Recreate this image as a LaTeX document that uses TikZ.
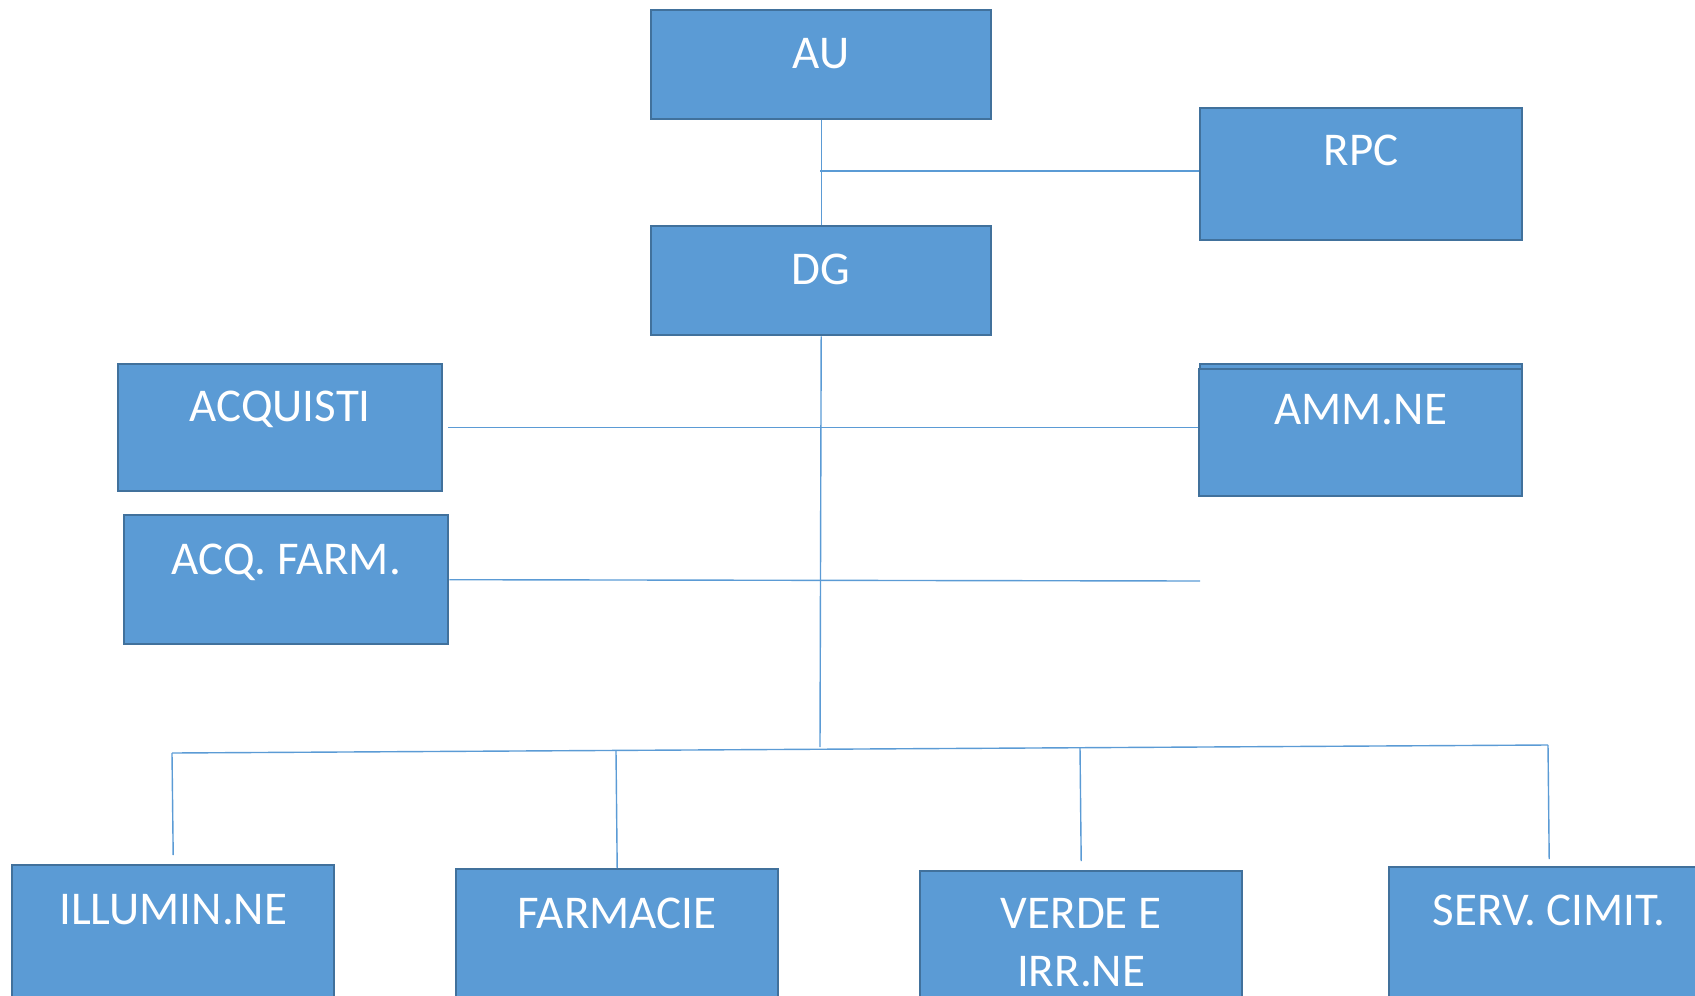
\documentclass[tikz,border=0pt]{standalone}
\usepackage{fontspec}
\setmainfont{Carlito}
\usetikzlibrary{positioning}

\definecolor{boxfill}{HTML}{5B9BD5}
\definecolor{boxline}{HTML}{41719C}
\definecolor{linkline}{HTML}{5B9BD5}

\begin{document}
\begin{tikzpicture}[x=1pt, y=-1pt,
    unit/.style={draw=boxline, fill=boxfill, line width=2.4pt, text=white,
      inner sep=0pt, anchor=north west, align=center,
      font=\fontsize{47}{58}\selectfont},
    link/.style={draw=linkline, line width=1.4pt}]

    \useasboundingbox (0,0) rectangle (1695,996);
    \clip (0,0) rectangle (1695,996);

    % =================================================================
    % 1. BOXES
    % =================================================================
    % top of the chart
    \node[unit, minimum width=340pt, text height=58pt, text depth=51pt] (au) at (650,9) {AU};
    \node[unit, minimum width=322pt, text height=57pt, text depth=75pt] (rpc) at (1199,107) {RPC};
    \node[unit, minimum width=340pt, text height=58pt, text depth=51pt] (dg) at (650,225) {DG};

    % staff boxes
    \node[unit, minimum width=324pt, text height=57pt, text depth=70pt] (acq) at (117,363) {ACQUISTI};
    \node[unit, minimum width=324pt, text height=59pt, text depth=70pt] (acqf) at (123,514) {ACQ. FARM.};
    \node[unit, minimum width=322pt, text height=55pt, text depth=72pt] (ammback) at (1199,363) {};
    \node[unit, minimum width=323pt, text height=55pt, text depth=72pt] (amm) at (1198,368) {AMM.NE};

    % bottom row
    \node[unit, minimum width=322pt, text height=59pt, text depth=90pt] (illum) at (11,864) {ILLUMIN.NE};
    \node[unit, minimum width=322pt, text height=59pt, text depth=90pt] (farm) at (455,868) {FARMACIE};
    \node[unit, minimum width=322pt, text height=115pt, text depth=40pt] (verde) at (919,870) {VERDE E\\IRR.NE};
    \node[unit, minimum width=320pt, text height=58pt, text depth=90pt] (serv) at (1388,866) {SERV. CIMIT.};

    % =================================================================
    % 2. CONNECTORS
    % =================================================================
    \coordinate (rpcJ) at (820,171);
    \coordinate (farmEnd) at (1200,581);
    \coordinate (hub) at (820,747);
    \coordinate (barL) at (172,753);
    \coordinate (barR) at (1548,745);
    \coordinate (dropF) at (616,751);
    \coordinate (dropV) at (1080,747);

    \draw[link] (au.south) -- (dg.north);
    \draw[link] (rpcJ) -- (rpc.west |- rpcJ);
    \draw[link] (dg.south) -- (hub);
    \draw[link] ([xshift=5pt]acq.east) -- (acq.east -| amm.west);
    \draw[link] (acqf.east) -- (farmEnd);

    % branch to the bottom row
    \draw[link] (barL) -- (barR);
    \draw[link] (barL) -- ([yshift=9pt]illum.north);
    \draw[link] (dropF) -- (farm.north);
    \draw[link] (dropV) -- ([yshift=9pt]verde.north);
    \draw[link] (barR) -- ([yshift=7pt]serv.north);

\end{tikzpicture}
\end{document}
